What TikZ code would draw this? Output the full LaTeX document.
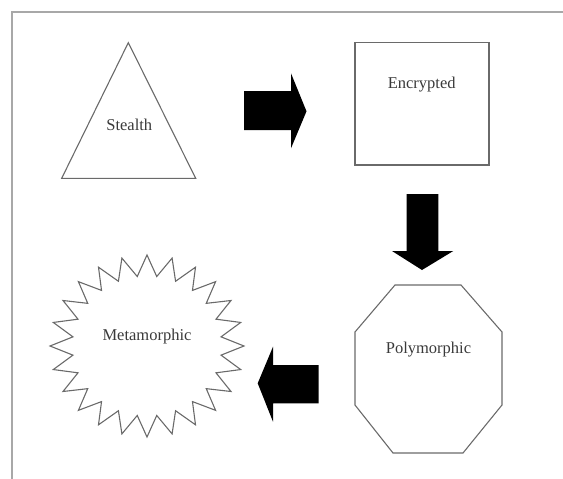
\documentclass[tikz,border=0pt]{standalone}
\usepackage{fontspec}
\setmainfont{Liberation Serif}
\definecolor{shapegray}{HTML}{6A6A6A}
\definecolor{textgray}{HTML}{3A3A3A}
\definecolor{framegray}{HTML}{A8A8A8}
\begin{document}
\begin{tikzpicture}[x=1pt,y=-1pt,
  shapeline/.style={draw=shapegray, line width=1.1pt, line join=miter},
  lbl/.style={font=\fontsize{16.5}{18}\selectfont, text=textgray, inner sep=0pt},
  blockarrow/.style={fill=black, draw=none}]
\useasboundingbox (0,0) rectangle (563,479);
% frame
\draw[framegray, line width=2pt] (563,11.7) -- (11.7,11.7) -- (11.7,479);
% Stealth triangle
\draw[shapeline] (128.3,42.7) -- (195.7,178.3) -- (61.7,178.3) -- cycle;
\node[lbl] (stealth) at (129.3,125) {Stealth};
% Encrypted rectangle
\draw[shapeline] (355,42.3) rectangle (489,165);
\node[lbl] (encrypted) at (421.7,85) {Encrypted};
% Polymorphic octagon
\draw[shapeline] (395,285) -- (461,285) -- (502,332) -- (502,405) -- (463,453) -- (393,453) -- (355,405) -- (355,332) -- cycle;
\node[lbl] (polymorphic) at (428.5,350) {Polymorphic};
% Metamorphic 24-point star
\draw[shapeline] (244,346) \foreach \i in {1,...,47} { -- ({147+97*(1-0.23*mod(\i,2))*cos(\i*7.5)}, {346-91*(1-0.23*mod(\i,2))*sin(\i*7.5)}) } -- cycle;
\node[lbl] (metamorphic) at (147,337) {Metamorphic};
% block arrows
\fill[blockarrow] (244,91) -- (291,91) -- (291,73.3) -- (306.5,111.3) -- (291,148.3) -- (291,130) -- (244,130) -- cycle;
\fill[blockarrow] (406.7,194) -- (438.3,194) -- (438.3,251) -- (453.3,251) -- (422,270) -- (392,251) -- (406.7,251) -- cycle;
\fill[blockarrow] (318.5,365) -- (273,365) -- (273,346.7) -- (257.7,383.3) -- (273,421.7) -- (273,403.3) -- (318.5,403.3) -- cycle;
\end{tikzpicture}
\end{document}
